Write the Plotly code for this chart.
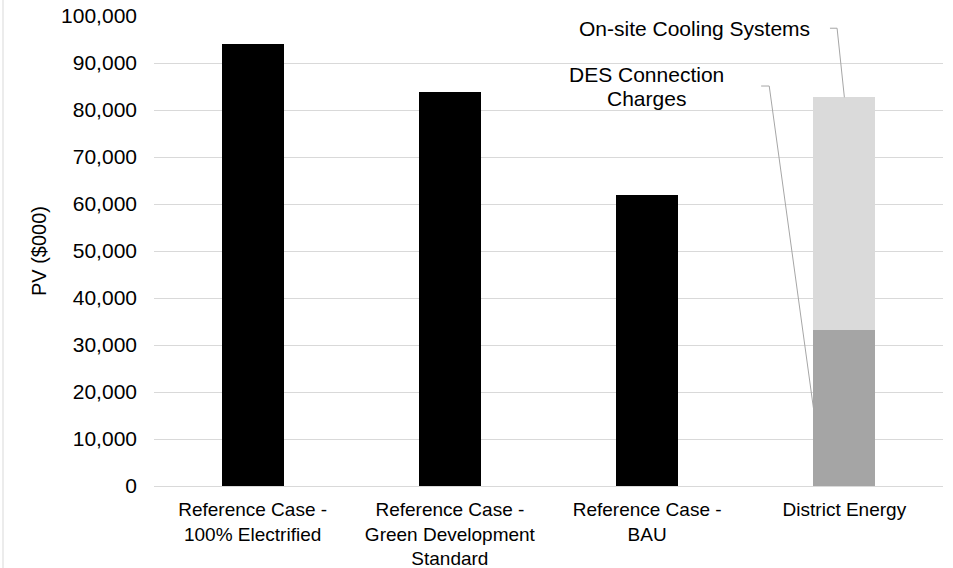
import plotly.graph_objects as go

# Present value of each energy option, in $000
categories = [
    "Reference Case -<br>100% Electrified",
    "Reference Case -<br>Green Development<br>Standard",
    "Reference Case -<br>BAU",
    "District Energy",
]
reference_cases = [94000, 83800, 62000, None]
des_connection = [None, None, None, 33200]
onsite_cooling = [None, None, None, 49500]

y_ticks = [0, 10000, 20000, 30000, 40000, 50000, 60000, 70000, 80000, 90000, 100000]

FONT = "Liberation Sans, Arial, sans-serif"
BAR_W = 0.314
LEADER = "#a6a6a6"

fig = go.Figure()
fig.add_bar(x=[0, 1, 2, 3], y=reference_cases, name="Reference",
            marker=dict(color="#000000", line=dict(width=0)), width=BAR_W)
fig.add_bar(x=[0, 1, 2, 3], y=des_connection, name="DES Connection Charges",
            marker=dict(color="#a5a5a5", line=dict(width=0)), width=BAR_W)
fig.add_bar(x=[0, 1, 2, 3], y=onsite_cooling, name="On-site Cooling Systems",
            marker=dict(color="#dadada", line=dict(width=0)), width=BAR_W)

des_top = des_connection[3]
stack_top = des_connection[3] + onsite_cooling[3]

# Leader lines from the labels to the District Energy stack
fig.add_shape(type="line", xref="x", yref="y", x0=2.927, y0=97400, x1=2.963, y1=97400,
              line=dict(color=LEADER, width=1))
fig.add_shape(type="line", xref="x", yref="y", x0=2.963, y0=97400, x1=3.0, y1=stack_top,
              line=dict(color=LEADER, width=1))
fig.add_shape(type="line", xref="x", yref="y", x0=2.578, y0=85100, x1=2.619, y1=85100,
              line=dict(color=LEADER, width=1))
fig.add_shape(type="line", xref="x", yref="y", x0=2.619, y0=85100, x1=3 - BAR_W / 2, y1=des_top / 2,
              line=dict(color=LEADER, width=1))

label_font = dict(family=FONT, size=21, color="#000000")
fig.add_annotation(x=2.238, y=97400, xref="x", yref="y", text="On-site Cooling Systems",
                   showarrow=False, font=label_font, xanchor="center", yanchor="middle")
fig.add_annotation(x=1.995, y=87600, xref="x", yref="y", text="DES Connection",
                   showarrow=False, font=label_font, xanchor="center", yanchor="middle")
fig.add_annotation(x=1.995, y=82500, xref="x", yref="y", text="Charges",
                   showarrow=False, font=label_font, xanchor="center", yanchor="middle")

# Thin frame line on the left edge (plot area spans 154..943 px horizontally, 16..486 px vertically)
fig.add_shape(type="line", xref="paper", yref="paper",
              x0=-151 / 789, x1=-151 / 789, y0=-82 / 470, y1=1 + 16 / 470,
              line=dict(color="#d9d9d9", width=1))

fig.update_layout(
    width=953, height=568,
    margin=dict(l=154, r=10, t=16, b=82),
    barmode="stack",
    showlegend=False,
    plot_bgcolor="white",
    paper_bgcolor="white",
    font=dict(family=FONT, size=20, color="#000000"),
    xaxis=dict(
        tickmode="array", tickvals=[0, 1, 2, 3], ticktext=categories,
        range=[-0.5, 3.5], showgrid=False, zeroline=False, showline=False,
        ticks="", ticklabelstandoff=10, automargin=False,
        tickfont=dict(family=FONT, size=19, color="#000000"),
    ),
    yaxis=dict(
        range=[0, 100000], tickmode="array", tickvals=y_ticks, tickformat=",d",
        showgrid=True, gridcolor="#d9d9d9", gridwidth=1,
        zeroline=True, zerolinecolor="#d9d9d9", zerolinewidth=1,
        showline=False, ticks="", ticklabelstandoff=16, automargin=False,
        tickfont=dict(family=FONT, size=21, color="#000000"),
        title=dict(text="PV ($000)", font=dict(family=FONT, size=20, color="#000000"), standoff=9),
    ),
)

fig.write_html("out.html")
